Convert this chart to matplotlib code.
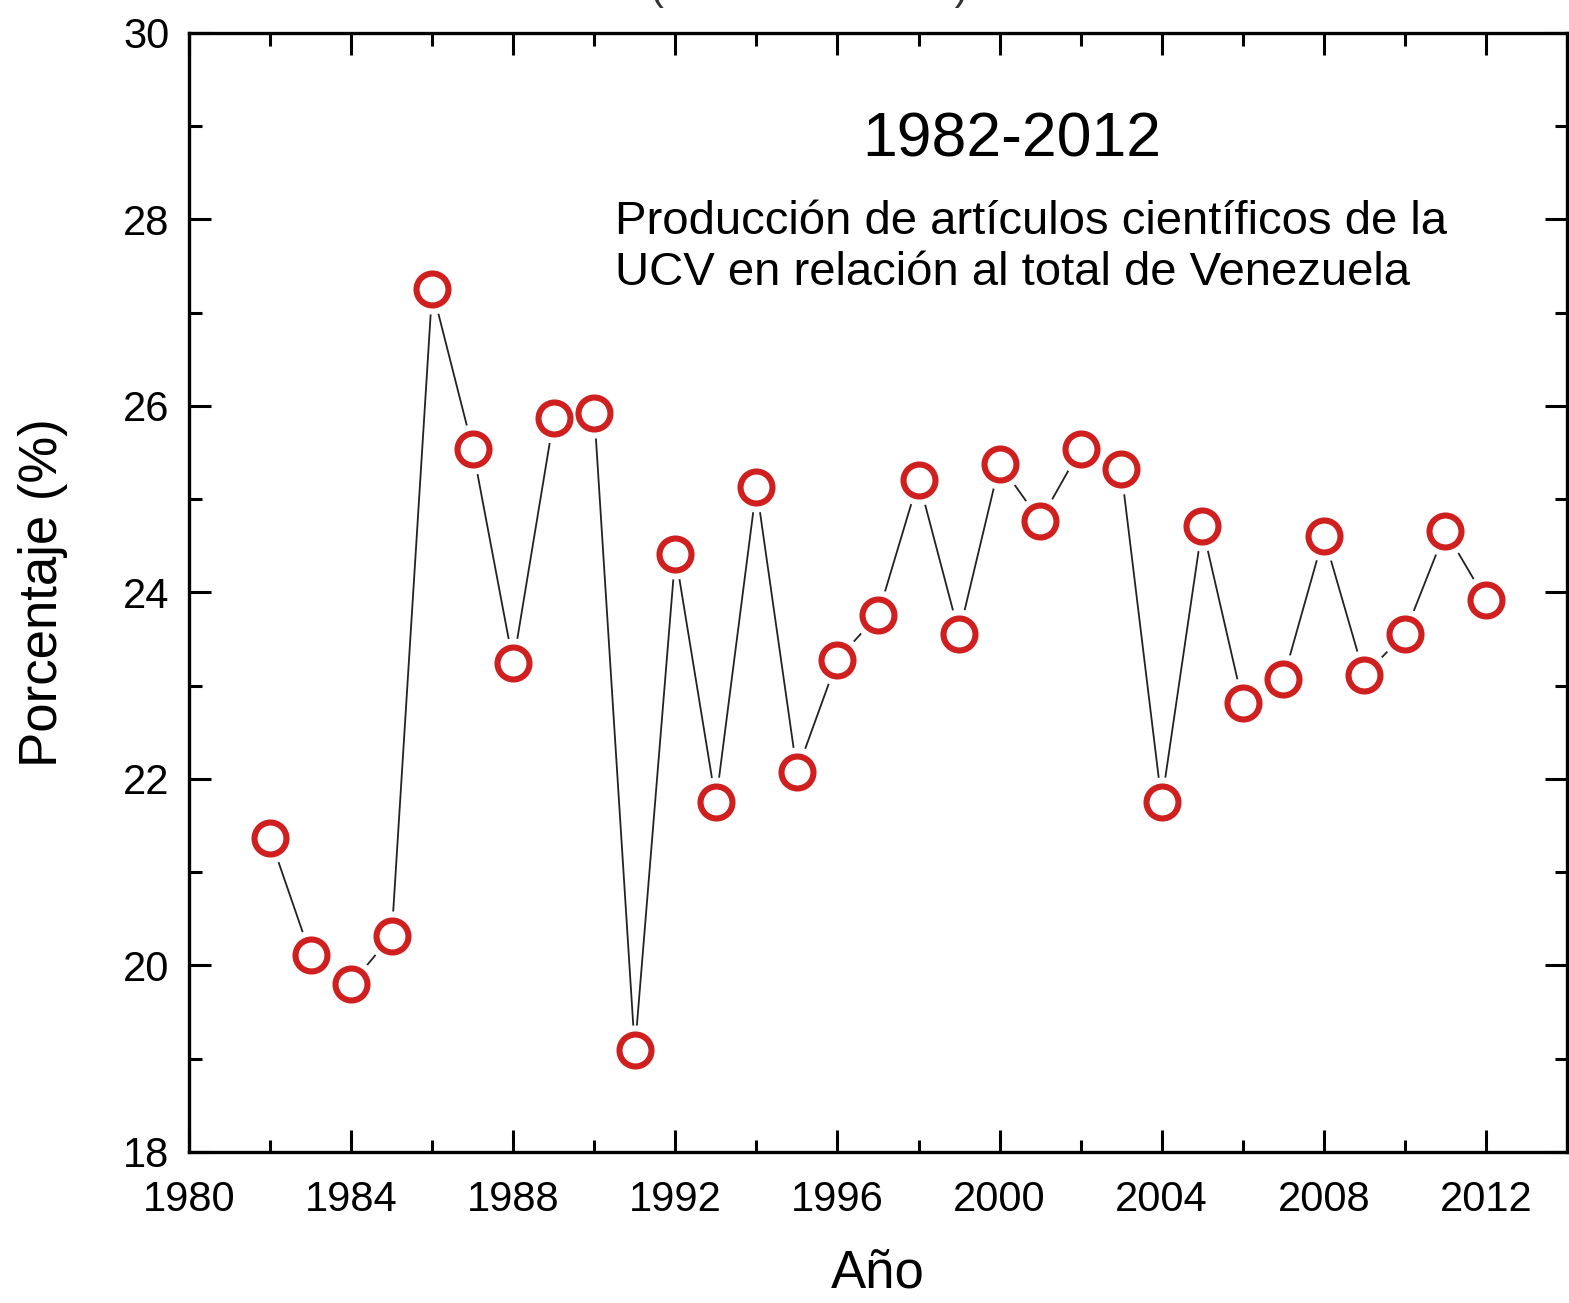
import matplotlib.pyplot as plt
from matplotlib.ticker import MultipleLocator
import numpy as np

plt.rcParams["font.family"] = ["Liberation Sans", "DejaVu Sans"]

years = np.arange(1982, 2013)
pct = [21.37, 20.11, 19.80, 20.32, 27.25, 25.54, 23.24, 25.87, 25.92, 19.09,
       24.41, 21.75, 25.13, 22.08, 23.28, 23.76, 25.21, 23.56, 25.38, 24.77,
       25.54, 25.32, 21.75, 24.71, 22.82, 23.07, 24.61, 23.11, 23.56, 24.66,
       23.92]

fig = plt.figure(figsize=(15.69, 13.03), dpi=100)
ax = fig.add_axes([0.1205, 0.1159, 0.8782, 0.8588])

ax.plot(years, pct, color="#222222", lw=1.3, zorder=2)
# white halo so the line stops short of each marker
ax.plot(years, pct, "o", ms=35, mfc="white", mec="white", zorder=3)
ax.plot(years, pct, "o", ms=23, mfc="white", mec="#d01f1f", mew=4.4, zorder=4)

ax.set_xlim(1980, 2014)
ax.set_ylim(18, 30)
ax.xaxis.set_major_locator(MultipleLocator(4))
ax.xaxis.set_minor_locator(MultipleLocator(2))
ax.yaxis.set_major_locator(MultipleLocator(2))
ax.yaxis.set_minor_locator(MultipleLocator(1))
ax.tick_params(which="both", direction="in", top=True, right=True,
               width=2.2, labelsize=30)
ax.tick_params(axis="x", which="major", pad=20)
ax.tick_params(axis="y", which="major", pad=14)
ax.tick_params(which="major", length=16)
ax.tick_params(which="minor", length=9)
for s in ax.spines.values():
    s.set_linewidth(2.4)

ax.set_xlabel("Año", fontsize=38, labelpad=21)
ax.set_ylabel("Porcentaje (%)", fontsize=38, labelpad=40)

ax.text(0.597, 0.904, "1982-2012", transform=ax.transAxes, ha="center",
        va="center", fontsize=45)
ax.text(0.309, 0.808, "Producción de artículos científicos de la\n"
        "UCV en relación al total de Venezuela", transform=ax.transAxes,
        ha="left", va="center", fontsize=34, linespacing=1.2)

fig.text(0.516, 1 + 1 / 1303, "(Web of Science)", ha="center",
         va="baseline", fontsize=30, color="#333333")

plt.savefig("out.png", dpi=100)
plt.close()
